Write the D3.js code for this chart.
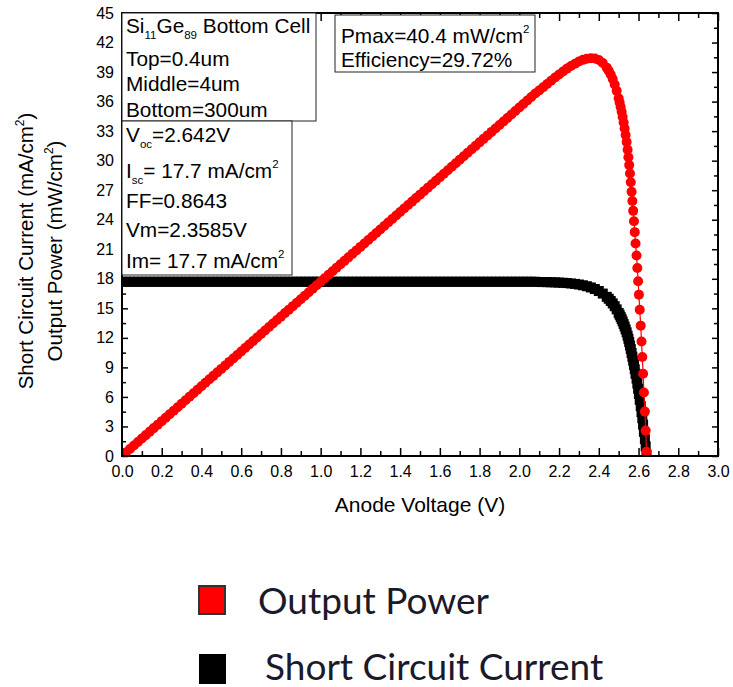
<!DOCTYPE html>
<html><head><meta charset="utf-8">
<script src="https://cdn.jsdelivr.net/npm/d3@7"></script>
<style>body{margin:0;background:#fff} svg{display:block}</style>
</head><body>
<svg id="c" width="733" height="687"></svg>
<script>
// ---- data (Anode Voltage V, Short Circuit Current mA/cm2, Output Power mW/cm2) ----
const voltage = [
0.00,0.02,0.04,0.06,0.08,0.10,0.12,0.14,0.16,0.18,
0.20,0.22,0.24,0.26,0.28,0.30,0.32,0.34,0.36,0.38,
0.40,0.42,0.44,0.46,0.48,0.50,0.52,0.54,0.56,0.58,
0.60,0.62,0.64,0.66,0.68,0.70,0.72,0.74,0.76,0.78,
0.80,0.82,0.84,0.86,0.88,0.90,0.92,0.94,0.96,0.98,
1.00,1.02,1.04,1.06,1.08,1.10,1.12,1.14,1.16,1.18,
1.20,1.22,1.24,1.26,1.28,1.30,1.32,1.34,1.36,1.38,
1.40,1.42,1.44,1.46,1.48,1.50,1.52,1.54,1.56,1.58,
1.60,1.62,1.64,1.66,1.68,1.70,1.72,1.74,1.76,1.78,
1.80,1.82,1.84,1.86,1.88,1.90,1.92,1.94,1.96,1.98,
2.00,2.02,2.04,2.06,2.08,
2.10,2.12,2.14,2.16,2.18,2.20,2.22,2.24,2.26,2.28,2.30,2.32,2.34,2.36,2.38,2.40,2.42,2.44,
2.45,2.46,2.47,2.48,2.49,2.50,
2.505,2.51,2.515,2.52,2.525,2.53,2.535,2.54,2.545,
2.549,2.553,2.557,2.561,2.565,2.569,2.573,
2.577,2.581,2.585,2.590,2.594,2.598,2.602,2.606,2.611,2.615,2.619,2.623,2.627,2.632,2.636,2.640
];
const current = [
17.7,17.7,17.7,17.7,17.7,17.7,17.7,17.7,17.7,17.7,17.7,17.7,17.7,17.7,17.7,
17.7,17.7,17.7,17.7,17.7,17.7,17.7,17.7,17.7,17.7,17.7,17.7,17.7,17.7,17.7,
17.7,17.7,17.7,17.7,17.7,17.7,17.7,17.7,17.7,17.7,17.7,17.7,17.7,17.7,17.7,
17.7,17.7,17.7,17.7,17.7,17.7,17.7,17.7,17.7,17.7,17.7,17.7,17.7,17.7,17.7,
17.7,17.7,17.7,17.7,17.7,17.7,17.7,17.7,17.7,17.7,17.7,17.7,17.7,17.7,17.7,
17.7,17.7,17.7,17.7,17.7,17.7,17.7,17.7,17.7,17.7,17.7,17.7,17.7,17.7,17.7,
17.7,17.7,17.7,17.7,17.7,17.7,17.7,17.7,17.7,17.7,17.7,17.7,17.7,17.7,17.7,
17.675,17.668,17.660,17.649,17.635,17.617,17.594,17.565,17.527,17.480,17.420,17.343,17.245,17.120,16.961,16.758,16.500,16.170,
15.972,15.751,15.500,15.217,14.894,14.533,
14.337,14.126,13.901,13.666,13.413,13.148,12.861,12.558,12.220,
11.907,11.575,11.224,10.855,10.468,10.082,9.677,
9.255,8.811,8.348,7.861,7.363,6.832,6.299,5.702,5.071,4.451,3.837,3.183,2.455,1.714,0.979,0.167
];
const power = [
0,0.354,0.708,1.062,1.416,1.77,2.124,2.478,2.832,3.186,
3.54,3.894,4.248,4.602,4.956,5.31,5.664,6.018,6.372,6.726,
7.08,7.434,7.788,8.142,8.496,8.85,9.204,9.558,9.912,10.266,
10.62,10.974,11.328,11.682,12.036,12.39,12.744,13.098,13.452,13.806,
14.16,14.514,14.868,15.222,15.576,15.93,16.284,16.638,16.992,17.346,
17.70,18.054,18.408,18.762,19.116,19.47,19.824,20.178,20.532,20.886,
21.24,21.594,21.948,22.302,22.656,23.01,23.364,23.718,24.072,24.426,
24.78,25.134,25.488,25.842,26.196,26.55,26.904,27.258,27.612,27.966,
28.32,28.674,29.028,29.382,29.736,30.09,30.444,30.798,31.152,31.506,
31.86,32.214,32.568,32.922,33.276,33.63,33.984,34.338,34.692,35.046,
35.40,35.754,36.108,36.462,36.816,
37.12,37.46,37.79,38.12,38.44,38.76,39.06,39.35,39.61,39.85,40.07,40.24,40.35,40.40,40.37,40.22,39.93,39.45,
39.13,38.75,38.29,37.74,37.09,36.33,
35.91,35.46,34.96,34.44,33.87,33.26,32.60,31.90,31.10,
30.35,29.55,28.70,27.80,26.85,25.90,24.90,
23.85,22.74,21.58,20.36,19.10,17.75,16.39,14.86,13.24,11.64,10.05,8.35,6.45,4.51,2.58,0.44
];
const xTicks = [0.0,0.2,0.4,0.6,0.8,1.0,1.2,1.4,1.6,1.8,2.0,2.2,2.4,2.6,2.8,3.0];
const yTicks = [0,3,6,9,12,15,18,21,24,27,30,33,36,39,42,45];
const xLabel = "Anode Voltage (V)";
const legendNames = ["Output Power","Short Circuit Current"];

// ---- layout ----
const L=122, R=718, T=13, B=456;
const svg = d3.select("#c");
const FONT = "'Liberation Sans', Arial, sans-serif";
const x = d3.scaleLinear().domain([0,3]).range([L,R]);
const y = d3.scaleLinear().domain([0,45]).range([B,T]);
const xMinor = xTicks.slice(1).map((d,i)=>(d+xTicks[i])/2);
const yMinor = yTicks.slice(1).map((d,i)=>(d+yTicks[i])/2);

svg.append("defs").append("clipPath").attr("id","plotclip")
  .append("rect").attr("x",L).attr("y",T).attr("width",R-L).attr("height",B-T);

const pts = voltage.map((v,i)=>({v, c:current[i], p:power[i]}));
const marks = svg.append("g").attr("clip-path","url(#plotclip)");

// current (black squares)
marks.append("path").datum(pts)
  .attr("d", d3.line().x(d=>x(d.v)).y(d=>y(d.c)))
  .attr("fill","none").attr("stroke","#000").attr("stroke-width",1);
marks.append("g").selectAll("rect").data(pts).join("rect")
  .attr("x",d=>x(d.v)-5).attr("y",d=>y(d.c)-5).attr("width",10).attr("height",10)
  .attr("fill","#000");

// power (red circles)
marks.append("path").datum(pts)
  .attr("d", d3.line().x(d=>x(d.v)).y(d=>y(d.p)))
  .attr("fill","none").attr("stroke","#ff0000").attr("stroke-width",1.2);
marks.append("g").selectAll("circle").data(pts).join("circle")
  .attr("cx",d=>x(d.v)).attr("cy",d=>y(d.p)).attr("r",5)
  .attr("fill","#ff0000");

// ---- axes ----
function styleAxis(g){
  g.select(".domain").remove();
  g.selectAll(".tick line").attr("stroke","#000").attr("stroke-width",1.5);
  g.selectAll("text").attr("font-family",FONT).attr("font-size",16).attr("fill","#000");
}
svg.append("g").attr("transform",`translate(0,${B})`)
  .call(d3.axisBottom(x).tickValues(xTicks).tickSize(-8).tickSizeOuter(0).tickPadding(10).tickFormat(d3.format(".1f")))
  .call(styleAxis);
svg.append("g").attr("transform",`translate(0,${B})`)
  .call(d3.axisBottom(x).tickValues(xMinor).tickSize(-5).tickSizeOuter(0).tickFormat(""))
  .call(styleAxis);
svg.append("g").attr("transform",`translate(0,${T})`)
  .call(d3.axisTop(x).tickValues(xTicks).tickSize(-8).tickSizeOuter(0).tickFormat(""))
  .call(styleAxis);
svg.append("g").attr("transform",`translate(0,${T})`)
  .call(d3.axisTop(x).tickValues(xMinor).tickSize(-5).tickSizeOuter(0).tickFormat(""))
  .call(styleAxis);
svg.append("g").attr("transform",`translate(${L},0)`)
  .call(d3.axisLeft(y).tickValues(yTicks).tickSize(-6).tickSizeOuter(0).tickPadding(8).tickFormat(d3.format("d")))
  .call(styleAxis);
svg.append("g").attr("transform",`translate(${L},0)`)
  .call(d3.axisLeft(y).tickValues(yMinor).tickSize(-4).tickSizeOuter(0).tickFormat(""))
  .call(styleAxis);
svg.append("g").attr("transform",`translate(${R},0)`)
  .call(d3.axisRight(y).tickValues(yTicks).tickSize(-6).tickSizeOuter(0).tickFormat(""))
  .call(styleAxis);
svg.append("g").attr("transform",`translate(${R},0)`)
  .call(d3.axisRight(y).tickValues(yMinor).tickSize(-4).tickSizeOuter(0).tickFormat(""))
  .call(styleAxis);

svg.append("rect").attr("x",L).attr("y",T).attr("width",R-L).attr("height",B-T)
  .attr("fill","none").attr("stroke","#000").attr("stroke-width",2);

// axis titles
svg.append("text").attr("x",(L+R)/2).attr("y",512).attr("text-anchor","middle")
  .attr("font-family",FONT).attr("font-size",21).text(xLabel);

function yTitle(xpos, main, unit){
  const t = svg.append("text").attr("transform",`translate(${xpos},251) rotate(-90)`)
    .attr("text-anchor","middle").attr("font-family",FONT).attr("font-size",20.5);
  t.append("tspan").text(main + " (" + unit);
  t.append("tspan").attr("font-size",12).attr("dy",-9).text("2");
  t.append("tspan").attr("dy",9).text(")");
}
yTitle(33,"Short Circuit Current","mA/cm");
yTitle(62,"Output Power","mW/cm");

// ---- annotation boxes ----
function box(x0,y0,w,h){
  svg.append("rect").attr("x",x0).attr("y",y0).attr("width",w).attr("height",h)
    .attr("fill","#fff").attr("stroke","#222").attr("stroke-width",1);
}
function line(xp,yp,parts){
  const t = svg.append("text").attr("x",xp).attr("y",yp)
    .attr("font-family",FONT).attr("font-size",20.8).attr("fill","#000");
  parts.forEach(p=>{
    const s = t.append("tspan").text(p.t);
    if(p.sub){ s.attr("font-size",11.5).attr("dy",6); }
    if(p.sup){ s.attr("font-size",11.5).attr("dy",-10); }
    if(p.back) s.attr("dy",p.back);
  });
}
box(L,T,194,108);
line(126,33,[{t:"Si"},{t:"11",sub:1},{t:"Ge",back:-6},{t:"89",sub:1},{t:" Bottom Cell",back:-6}]);
line(126,66,[{t:"Top=0.4um"}]);
line(126,91,[{t:"Middle=4um"}]);
line(126,117,[{t:"Bottom=300um"}]);

box(L,121,170,154);
line(126,142,[{t:"V"},{t:"oc",sub:1},{t:"=2.642V",back:-6}]);
line(126,178,[{t:"I"},{t:"sc",sub:1},{t:"= 17.7 mA/cm",back:-6},{t:"2",sup:1}]);
line(126,208,[{t:"FF=0.8643"}]);
line(126,237,[{t:"Vm=2.3585V"}]);
line(126,268,[{t:"Im= 17.7 mA/cm"},{t:"2",sup:1}]);

box(335,15,200,57);
line(341,43,[{t:"Pmax=40.4 mW/cm"},{t:"2",sup:1}]);
line(341,67,[{t:"Efficiency=29.72%"}]);

// ---- legend ----
const LF = "Lato, 'Open Sans', sans-serif";
svg.append("rect").attr("x",199).attr("y",586).attr("width",26).attr("height",28)
  .attr("fill","#ff0000").attr("stroke","#333").attr("stroke-width",2);
svg.append("text").attr("x",258).attr("y",614).attr("font-family",LF).attr("font-size",37)
  .attr("fill","#1a1a2a").text(legendNames[0]);
svg.append("rect").attr("x",199).attr("y",654).attr("width",27).attr("height",30)
  .attr("fill","#000");
svg.append("text").attr("x",265).attr("y",680).attr("font-family",LF).attr("font-size",37)
  .attr("fill","#1a1a2a").text(legendNames[1]);
</script>
</body></html>
